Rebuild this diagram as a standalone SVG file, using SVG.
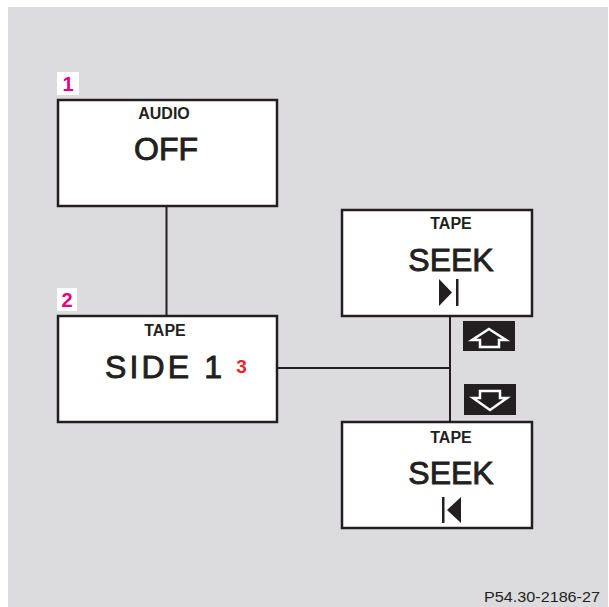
<svg xmlns="http://www.w3.org/2000/svg" width="609" height="607" viewBox="0 0 609 607">
<style>
.box{fill:#ffffff;stroke:#231f20;stroke-width:2.5}
.ln{stroke:#231f20;stroke-width:2;fill:none}
.sm{font-family:"Liberation Sans",Arial,sans-serif;font-weight:bold;font-size:16px;fill:#231f20;text-anchor:middle}
.big{font-family:"Liberation Sans",Arial,sans-serif;font-size:32px;fill:#231f20;stroke:#231f20;stroke-width:0.9;text-anchor:middle}
.tag{fill:#ffffff}
.num{font-family:"Liberation Sans",Arial,sans-serif;font-weight:bold;font-size:20px;fill:#e6007e;text-anchor:middle}
.btn{fill:#231f20}
.arr{fill:none;stroke:#ffffff;stroke-width:2.5;stroke-linejoin:miter}
</style>
<rect x="0" y="0" width="609" height="607" fill="#ffffff"/>
<rect x="8" y="7" width="600" height="600" fill="#dcdcde"/>
<g id="connectors">
<line class="ln" x1="166.5" y1="206" x2="166.5" y2="316"/>
<line class="ln" x1="277" y1="368" x2="450" y2="368"/>
<line class="ln" x1="450" y1="316" x2="450" y2="422"/>
</g>
<g id="node1">
<rect class="tag" x="57" y="72" width="22" height="23"/>
<text class="num" x="68" y="91">1</text>
<rect class="box" x="58" y="100" width="219" height="106"/>
<text class="sm" x="164" y="119">AUDIO</text>
<text class="big" x="166" y="160" font-size="33">OFF</text>
</g>
<g id="node2">
<rect class="tag" x="57" y="288" width="20" height="23"/>
<text class="num" x="67" y="307">2</text>
<rect class="box" x="58" y="316" width="219" height="106"/>
<text class="sm" x="165" y="336" font-size="17">TAPE</text>
<text class="big" x="105" y="378" font-size="34" style="text-anchor:start" textLength="117" lengthAdjust="spacing">SIDE 1</text>
<text x="241.5" y="373" font-family="Liberation Sans,Arial,sans-serif" font-weight="bold" font-size="19" fill="#e8262a" text-anchor="middle">3</text>
</g>
<g id="node3">
<rect class="box" x="342" y="210" width="190" height="106"/>
<text class="sm" x="451" y="229">TAPE</text>
<text class="big" x="451" y="271">SEEK</text>
<polygon points="439,279 452,292.5 439,306" fill="#231f20"/>
<rect x="456" y="279" width="2.5" height="27" fill="#231f20"/>
</g>
<g id="node4">
<rect class="box" x="342" y="422" width="190" height="106"/>
<text class="sm" x="451" y="443">TAPE</text>
<text class="big" x="451" y="484">SEEK</text>
<rect x="442" y="497" width="2.5" height="26" fill="#231f20"/>
<polygon points="461,497 447,510 461,523" fill="#231f20"/>
</g>
<g id="btnUp">
<rect class="btn" x="463" y="321" width="52" height="30"/>
<polygon class="arr" points="489,329 506,340 499,340 499,347 480,347 480,340 472,340"/>
</g>
<g id="btnDown">
<rect class="btn" x="464" y="384" width="52" height="31"/>
<polygon class="arr" points="480,391 500,391 500,398 507,398 490,410 473,398 480,398"/>
</g>
<text x="542" y="602" font-family="Liberation Sans,Arial,sans-serif" font-size="15" fill="#231f20" text-anchor="middle" textLength="116" lengthAdjust="spacingAndGlyphs">P54.30-2186-27</text>
</svg>
